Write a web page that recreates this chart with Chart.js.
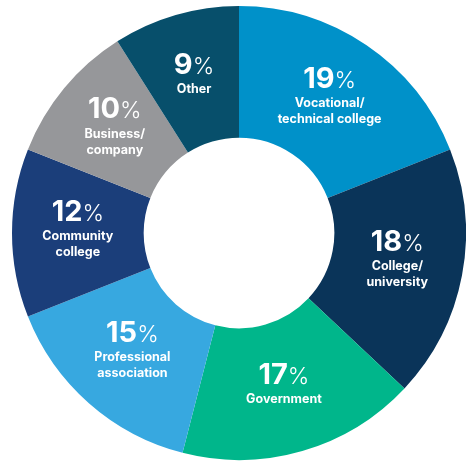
<!DOCTYPE html>
<html>
<head>
<meta charset="utf-8">
<script src="https://cdn.jsdelivr.net/npm/chart.js@4.4.1/dist/chart.umd.min.js"></script>
<style>
  html, body { margin: 0; padding: 0; background: #fff; }
  #wrap { width: 466px; height: 463px; position: relative; }
</style>
</head>
<body>
<div id="wrap"><canvas id="donut"></canvas></div>
<script>
const categories = [
    ['Vocational/', 'technical college'],
    ['College/', 'university'],
    ['Government'],
    ['Professional', 'association'],
    ['Community', 'college'],
    ['Business/', 'company'],
    ['Other']
];
const shares = [19, 18, 17, 15, 12, 10, 9];
const sliceColors = ['#0091c9', '#0a3459', '#00b68b', '#37a8e0', '#1b3e7a', '#96979a', '#074f6b'];

const FONT = 'Inter, "Liberation Sans", sans-serif';

// draws the "19%" + label text in the middle of each slice
const sliceLabels = {
    id: 'sliceLabels',
    afterDatasetsDraw(chart) {
        const ctx = chart.ctx;
        const meta = chart.getDatasetMeta(0);
        meta.data.forEach((arc, i) => {
            const p = arc.getCenterPoint();
            const lines = categories[i];
            const n = lines.length;
            const numY = p.y - 4 - (21 + 16 * (n - 1)) / 2; // middle of the big number

            ctx.save();
            ctx.fillStyle = '#fff';
            ctx.textBaseline = 'alphabetic';
            ctx.textAlign = 'left';

            const num = String(shares[i]);
            ctx.font = '700 29px ' + FONT;
            const wNum = ctx.measureText(num).width;
            ctx.font = '300 23px ' + FONT;
            const wPct = ctx.measureText('%').width;
            const x0 = p.x - (wNum + wPct) / 2;
            ctx.font = '700 29px ' + FONT;
            ctx.fillText(num, x0, numY + 10.5);
            ctx.font = '300 23px ' + FONT;
            ctx.fillText('%', x0 + wNum, numY + 10.5);

            ctx.font = '700 12.5px ' + FONT;
            ctx.textAlign = 'center';
            ctx.textBaseline = 'middle';
            lines.forEach((t, k) => {
                ctx.fillText(t, p.x, numY + 26 + 16 * k);
            });
            ctx.restore();
        });
    }
};

new Chart(document.getElementById('donut'), {
    type: 'doughnut',
    data: {
        labels: categories.map(l => l.join(' ')),
        datasets: [{
            data: shares,
            backgroundColor: sliceColors,
            borderWidth: 0
        }]
    },
    options: {
        responsive: true,
        maintainAspectRatio: false,
        animation: false,
        cutout: '42%',
        layout: { padding: { left: 12, right: 0, top: 5, bottom: 2 } },
        plugins: {
            legend: { display: false },
            tooltip: { enabled: false }
        }
    },
    plugins: [sliceLabels]
});
</script>
</body>
</html>
